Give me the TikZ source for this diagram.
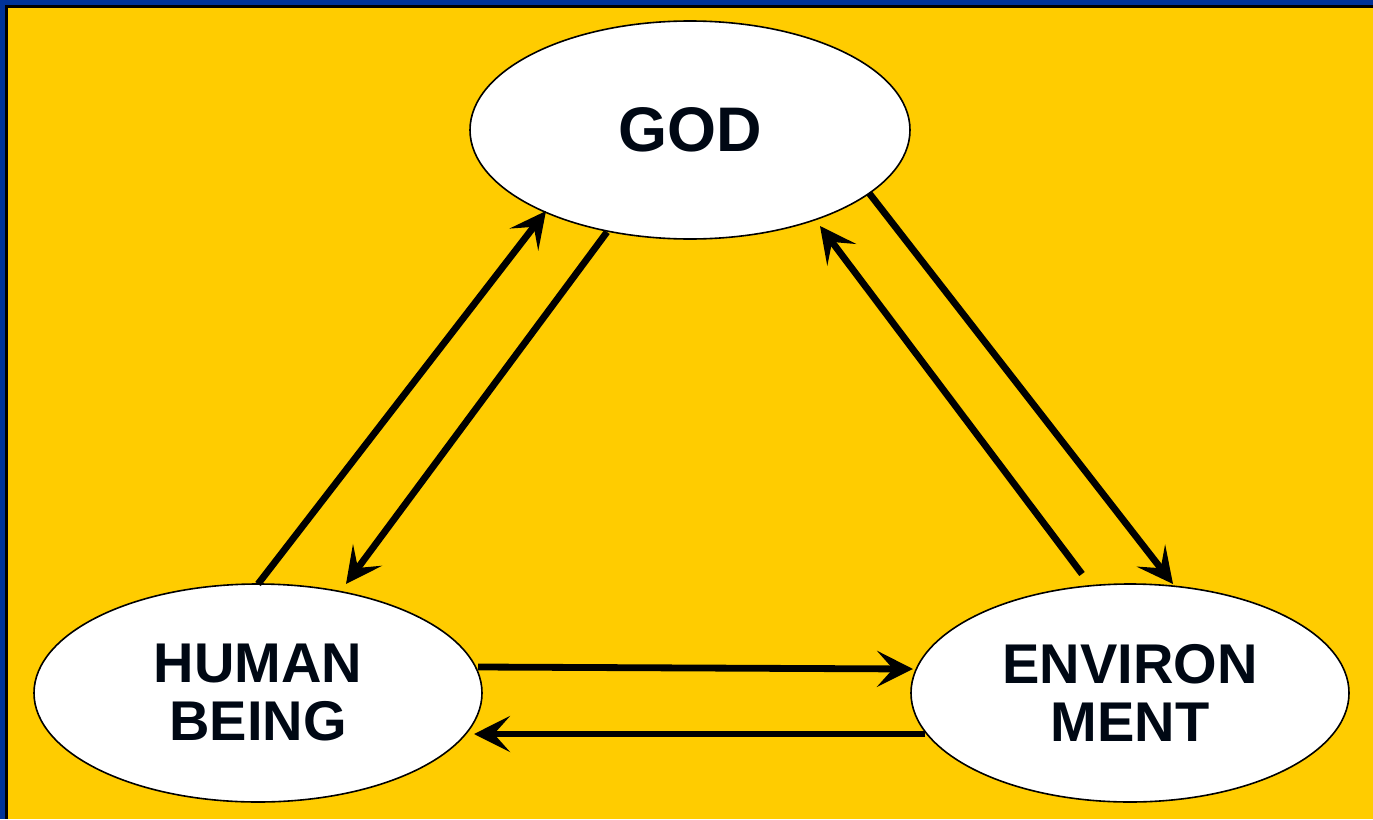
\documentclass[tikz,border=0pt]{standalone}
\usepackage{fontspec}
\setmainfont{Liberation Sans}
\usetikzlibrary{shapes.geometric,arrows.meta,calc}
\definecolor{bgyellow}{HTML}{FFCC00}
\definecolor{bgblue}{HTML}{003399}
\definecolor{txt}{HTML}{000814}
\tikzset{
  oval/.style={ellipse,draw=black,line width=1.6pt,fill=white,inner sep=0pt,
    minimum width=#1,minimum height=218pt,text=txt,align=center},
  conn/.style={line width=6.8pt,-{Stealth[length=36pt,width=36pt,inset=16pt]}}
}
\begin{document}
\begin{tikzpicture}[x=1pt,y=-1pt]
\useasboundingbox (0,0) rectangle (1373,819);
\fill[bgblue] (0,0) rectangle (1373,819);
\fill[black] (5,5) rectangle (1373,819);
\fill[bgyellow] (7.5,7.5) rectangle (1373,819);
\node[oval=440pt,font={\bfseries\fontsize{63}{70}\selectfont}] (god) at (690,130) {\raisebox{-4pt}{GOD}};
\node[oval=448pt,font={\bfseries\fontsize{56}{61}\selectfont}] (hum) at (258,693) {\raisebox{-3pt}{HUMAN}\\BEING};
\node[oval=438pt,font={\bfseries\fontsize{56}{61}\selectfont}] (env) at (1130,693) {\raisebox{-3pt}{ENVIRON}\\MENT};
\draw[conn] ($(hum)+(0,-109)$) -- ($(god)+(-144,81)$);
\draw[conn] ($(god)+(-83,102)$) -- ($(hum)+(88,-109)$);
\draw[conn] ($(god)+(179,63)$) -- ($(env)+(43,-109)$);
\draw[conn] ($(env)+(-48,-119)$) -- ($(god)+(130,96)$);
\draw[conn] ($(hum)+(220,-26)$) -- ($(env)+(-217,-24)$);
\draw[conn] ($(env)+(-205,41)$) -- ($(hum)+(216,41)$);
\end{tikzpicture}
\end{document}
